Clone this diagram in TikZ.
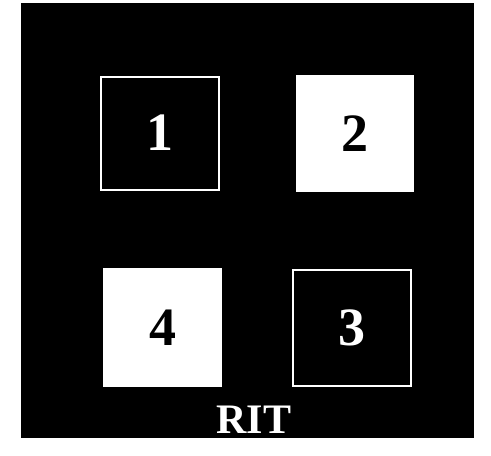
\documentclass[tikz,border=0pt]{standalone}
\usepackage{fontspec}
\setmainfont{Liberation Serif}
\begin{document}
\begin{tikzpicture}[x=1pt,y=-1pt,
  outbox/.style={draw=white,line width=2pt,fill=black,text=white,inner sep=0pt,
    font=\fontsize{54}{54}\selectfont\bfseries},
  fillbox/.style={fill=white,text=black,inner sep=0pt,
    font=\fontsize{54}{54}\selectfont\bfseries}]
\useasboundingbox (0,0) rectangle (491,456);
\fill[black] (21,3) rectangle (474,438);
\node[outbox,minimum width=118pt,minimum height=113pt] (b1) at (159.5,133) {1};
\node[fillbox,minimum width=118pt,minimum height=117pt] (b2) at (354.5,133.5) {2};
\node[outbox,minimum width=118pt,minimum height=116pt] (b3) at (351.5,327.5) {3};
\node[fillbox,minimum width=119pt,minimum height=119pt] (b4) at (162.5,327.5) {4};
\node[text=white,inner sep=0pt,anchor=base,font=\fontsize{42}{42}\selectfont\bfseries] (rit) at (254,433) {RIT};
\end{tikzpicture}
\end{document}
